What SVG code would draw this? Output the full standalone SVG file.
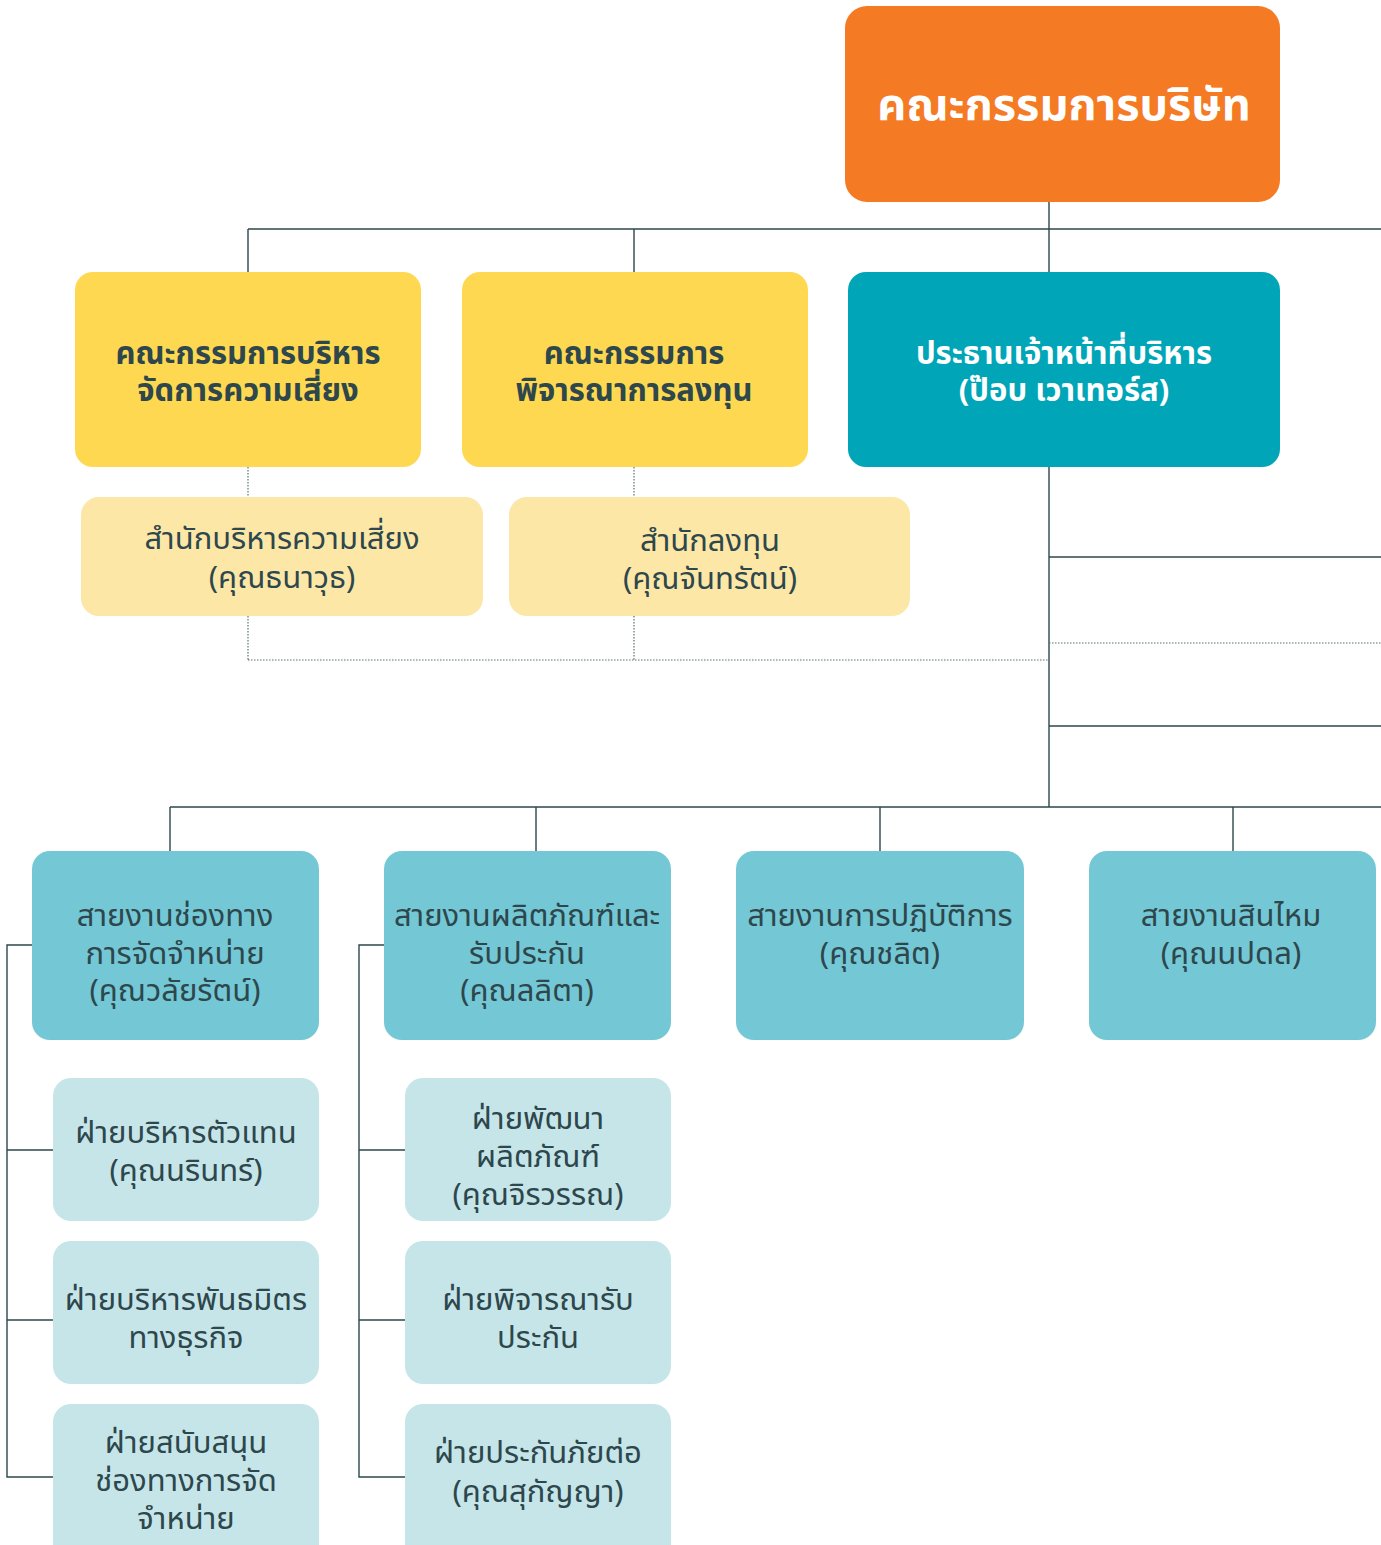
<svg xmlns="http://www.w3.org/2000/svg" width="1381" height="1545" viewBox="0 0 1381 1545">
<style>
.ln{stroke:#2E474C;stroke-width:1.4;fill:none}
.dt{stroke:#5A6E72;stroke-width:1.2;fill:none;stroke-dasharray:1.5 1.5}
.t{font-family:"Noto Sans","Noto Sans Thai","Loma",sans-serif;font-size:31px;fill:#2D474C;text-anchor:middle}
.b{font-weight:bold}
.w{fill:#ffffff}
.big{font-size:45px}
</style>
<rect width="1381" height="1545" fill="#ffffff"/>
<g id="connectors">
<path class="ln" d="M1049,202 V807 M248,229 H1381 M248,229 V272 M634,229 V272"/>
<path class="ln" d="M1049,557 H1381 M1049,726 H1381"/>
<path class="dt" d="M248,467 V497 M634,467 V497 M248,616 V660 M634,616 V660 M248,660 H1049 M1049,643 H1381"/>
<path class="ln" d="M170,807 H1381 M170,807 V851 M536,807 V851 M880,807 V851 M1233,807 V851"/>
<path class="ln" d="M32,945 H7 V1477 H53 M7,1150 H53 M7,1320 H53"/>
<path class="ln" d="M384,945 H359 V1477 H405 M359,1150 H405 M359,1320 H405"/>
</g>
<g id="board"><rect x="845" y="6" width="435" height="196" rx="22" fill="#F47A24"/><text class="t b w big" x="1064" y="120">คณะกรรมการบริษัท</text></g>
<g id="risk-committee"><rect x="75" y="272" width="346" height="195" rx="18" fill="#FED850"/><text class="t b" x="248" y="364">คณะกรรมการบริหาร</text><text class="t b" x="248" y="401">จัดการความเสี่ยง</text></g>
<g id="invest-committee"><rect x="462" y="272" width="346" height="195" rx="18" fill="#FED850"/><text class="t b" x="634" y="364">คณะกรรมการ</text><text class="t b" x="634" y="401">พิจารณาการลงทุน</text></g>
<g id="ceo"><rect x="848" y="272" width="432" height="195" rx="18" fill="#00A5B8"/><text class="t b w" x="1064" y="364">ประธานเจ้าหน้าที่บริหาร</text><text class="t b w" x="1064" y="401">(ป๊อบ เวาเทอร์ส)</text></g>
<g id="risk-office"><rect x="81" y="497" width="402" height="119" rx="18" fill="#FDE7A7"/><text class="t" x="282" y="549">สำนักบริหารความเสี่ยง</text><text class="t" x="282" y="588">(คุณธนาวุธ)</text></g>
<g id="invest-office"><rect x="509" y="497" width="401" height="119" rx="18" fill="#FDE7A7"/><text class="t" x="710" y="551">สำนักลงทุน</text><text class="t" x="710" y="589">(คุณจันทรัตน์)</text></g>
<g id="distribution"><rect x="32" y="851" width="287" height="189" rx="18" fill="#74C8D5"/><text class="t" x="175" y="926">สายงานช่องทาง</text><text class="t" x="175" y="964">การจัดจำหน่าย</text><text class="t" x="175" y="1001">(คุณวลัยรัตน์)</text></g>
<g id="product"><rect x="384" y="851" width="287" height="189" rx="18" fill="#74C8D5"/><text class="t" x="527" y="926">สายงานผลิตภัณฑ์และ</text><text class="t" x="527" y="964">รับประกัน</text><text class="t" x="527" y="1001">(คุณลลิตา)</text></g>
<g id="operations"><rect x="736" y="851" width="288" height="189" rx="18" fill="#74C8D5"/><text class="t" x="880" y="926">สายงานการปฏิบัติการ</text><text class="t" x="880" y="964">(คุณชลิต)</text></g>
<g id="claims"><rect x="1089" y="851" width="287" height="189" rx="18" fill="#74C8D5"/><text class="t" x="1231" y="926">สายงานสินไหม</text><text class="t" x="1231" y="964">(คุณนปดล)</text></g>
<g id="agency"><rect x="53" y="1078" width="266" height="143" rx="18" fill="#C6E5E9"/><text class="t" x="186" y="1143">ฝ่ายบริหารตัวแทน</text><text class="t" x="186" y="1181">(คุณนรินทร์)</text></g>
<g id="partners"><rect x="53" y="1241" width="266" height="143" rx="18" fill="#C6E5E9"/><text class="t" x="186" y="1310">ฝ่ายบริหารพันธมิตร</text><text class="t" x="186" y="1348">ทางธุรกิจ</text></g>
<g id="channel-support"><rect x="53" y="1404" width="266" height="160" rx="18" fill="#C6E5E9"/><text class="t" x="186" y="1453">ฝ่ายสนับสนุน</text><text class="t" x="186" y="1491">ช่องทางการจัด</text><text class="t" x="186" y="1529">จำหน่าย</text></g>
<g id="product-dev"><rect x="405" y="1078" width="266" height="143" rx="18" fill="#C6E5E9"/><text class="t" x="538" y="1129">ฝ่ายพัฒนา</text><text class="t" x="538" y="1167">ผลิตภัณฑ์</text><text class="t" x="538" y="1205">(คุณจิรวรรณ)</text></g>
<g id="underwriting"><rect x="405" y="1241" width="266" height="143" rx="18" fill="#C6E5E9"/><text class="t" x="538" y="1310">ฝ่ายพิจารณารับ</text><text class="t" x="538" y="1348">ประกัน</text></g>
<g id="reinsurance"><rect x="405" y="1404" width="266" height="160" rx="18" fill="#C6E5E9"/><text class="t" x="538" y="1463">ฝ่ายประกันภัยต่อ</text><text class="t" x="538" y="1502">(คุณสุกัญญา)</text></g>
</svg>
